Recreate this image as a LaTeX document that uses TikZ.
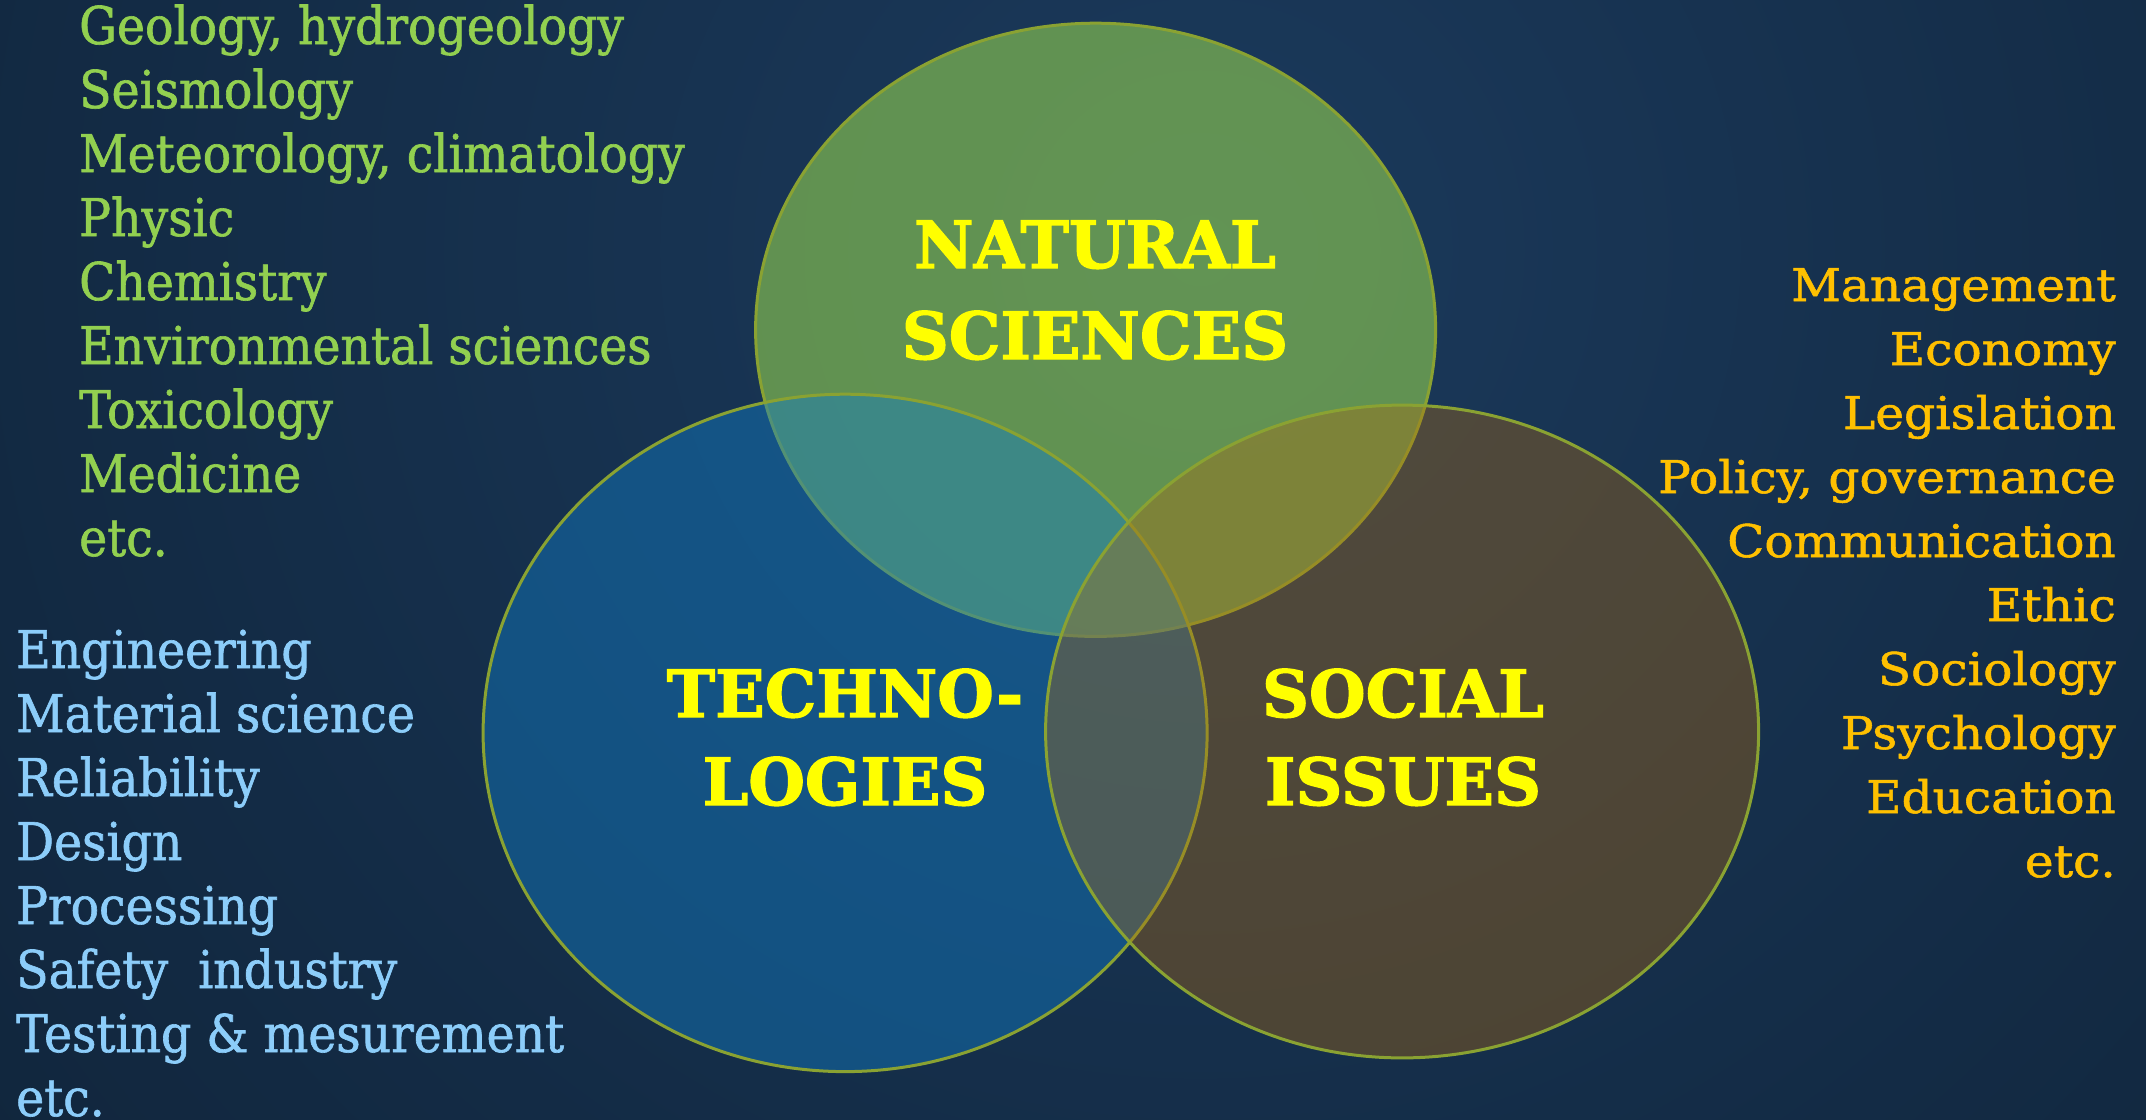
\documentclass[tikz,border=0pt]{standalone}
\usepackage{fontspec}
\setmainfont{DejaVu Serif}
\newfontfamily\listfont[FakeStretch=0.91,FakeBold=1.2]{DejaVu Serif}
\newfontfamily\widefont[FakeStretch=1.08,FakeBold=1.2]{DejaVu Serif}
\newfontfamily\titlefont[FakeBold=2]{DejaVu Serif}
\definecolor{bgin}{HTML}{1B3A5C}
\definecolor{bgmid}{HTML}{132B45}
\definecolor{bgout}{HTML}{0A1520}
\definecolor{nsfill}{HTML}{92D050}
\definecolor{tefill}{HTML}{127DC5}
\definecolor{sifill}{HTML}{AE6B10}
\definecolor{rim}{HTML}{8AA232}
\definecolor{greentxt}{HTML}{92D050}
\definecolor{bluetxt}{HTML}{8CCDFA}
\definecolor{orangetxt}{HTML}{FFC000}
\definecolor{titletxt}{HTML}{FFFF00}
\pgfdeclareradialshading{bgshade}{\pgfpoint{0bp}{0bp}}{color(0bp)=(bgin); color(18bp)=(bgmid); color(50bp)=(bgout)}
\tikzset{
  venn/.style={draw=rim, line width=3pt},
  greenline/.style={text=greentxt, font=\fontsize{52}{64}\listfont, inner sep=0pt, anchor=base west},
  blueline/.style={text=bluetxt, font=\fontsize{52}{64}\listfont, inner sep=0pt, anchor=base west},
  orangeline/.style={text=orangetxt, font=\fontsize{45}{64}\widefont, inner sep=0pt, anchor=base east},
  titleline/.style={text=titletxt, font=\fontsize{65}{91}\titlefont\bfseries, inner sep=0pt, anchor=base}
}
\begin{document}
\begin{tikzpicture}[x=1pt, y=-1pt]
\useasboundingbox (0,0) rectangle (2146,1119);
\begin{scope}
  \clip (0,0) rectangle (2146,1119);
  \fill[bgout] (0,0) rectangle (2146,1119);
  \shade[shading=bgshade] (1200,250) circle [radius=1500];
\end{scope}
% Venn ellipses
\draw[venn, fill=nsfill, fill opacity=0.6] (1095.6,329.8) ellipse [x radius=340, y radius=306.6];
\draw[venn, fill=tefill, fill opacity=0.45] (845.1,732.9) ellipse [x radius=362, y radius=338.7];
\draw[venn, fill=sifill, fill opacity=0.37] (1402.1,731.5) ellipse [x radius=356.5, y radius=326.4];
% titles
\node[titleline] (ns1) at (1095,268) {NATURAL};
\node[titleline] (ns2) at (1095,359) {SCIENCES};
\node[titleline] (te1) at (845,717) {TECHNO-};
\node[titleline] (te2) at (845,805) {LOGIES};
\node[titleline] (si1) at (1403,717) {SOCIAL};
\node[titleline] (si2) at (1403,805) {ISSUES};
% green list
\foreach \t [count=\i] in {{Geology, hydrogeology}, Seismology, {Meteorology, climatology}, Physic, Chemistry, Environmental sciences, Toxicology, Medicine, etc.}
  \node[greenline] (g\i) at (79,{44+64*(\i-1)}) {\t};
% blue list
\foreach \t [count=\i] in {Engineering, Material science, Reliability, Design, Processing, {Safety\ \ industry}, {Testing \& mesurement}, etc.}
  \node[blueline] (b\i) at (16,{668+64*(\i-1)}) {\t};
% orange list
\foreach \t [count=\i] in {Management, Economy, Legislation, {Policy, governance}, Communication, Ethic, Sociology, Psychology, Education, etc.}
  \node[orangeline] (o\i) at (2116,{301+64*(\i-1)}) {\t};
\end{tikzpicture}
\end{document}
